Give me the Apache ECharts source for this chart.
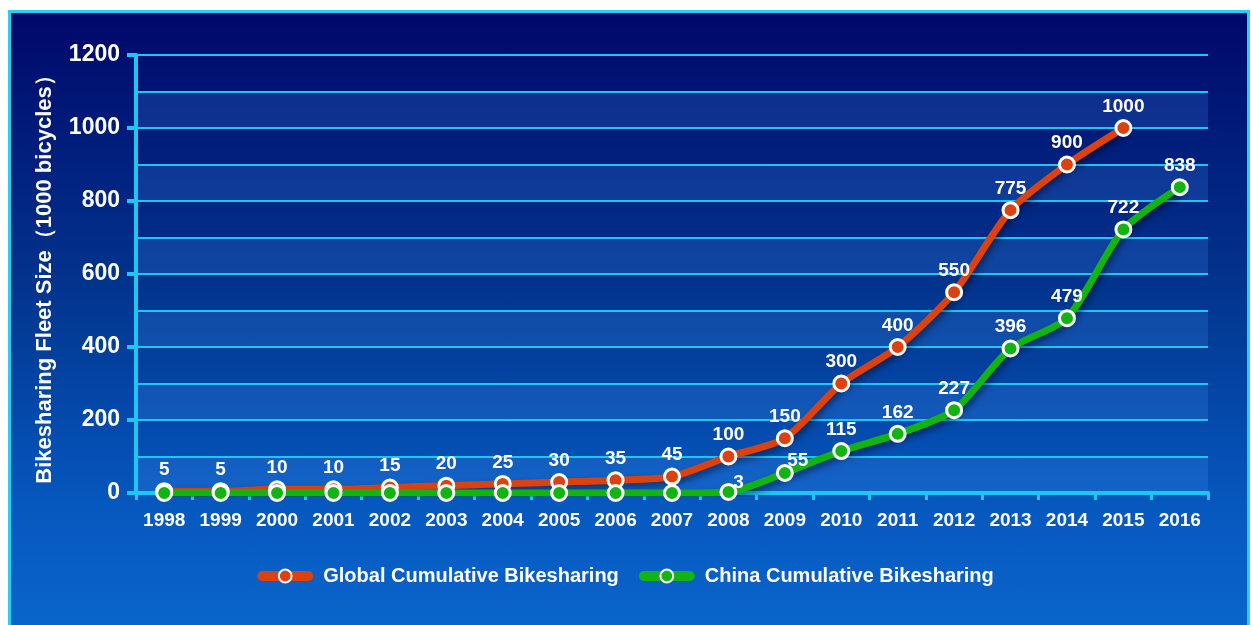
<!DOCTYPE html>
<html><head><meta charset="utf-8">
<script src="https://cdn.jsdelivr.net/npm/echarts@6/dist/echarts.min.js"></script>
<style>
html,body{margin:0;padding:0;background:#fff;width:1251px;height:625px;overflow:hidden;}
#frame{position:absolute;left:8px;top:10px;width:1236px;height:620px;border:3px solid #2ccdf2;
background:linear-gradient(to bottom,#00086a 0%,#02358f 45%,#0658bf 80%,#0a66cc 100%);}
#chart{position:absolute;left:0;top:0;width:1251px;height:625px;}
</style></head>
<body><div id="frame"></div><div id="chart"></div>
<script>
const years = ['1998','1999','2000','2001','2002','2003','2004','2005','2006','2007','2008','2009','2010','2011','2012','2013','2014','2015','2016'];
const globalFleet = [5,5,10,10,15,20,25,30,35,45,100,150,300,400,550,775,900,1000,null];
const chinaFleet = [0,0,0,0,0,0,0,0,0,0,3,55,115,162,227,396,479,722,838];
const seriesNames = ['Global Cumulative Bikesharing','China Cumulative Bikesharing'];
const yAxisTitle = 'Bikesharing Fleet Size（1000 bicycles）';

const font = 'Liberation Sans, Arial, sans-serif';
const cyan = '#1ec6f2';
const chart = echarts.init(document.getElementById('chart'));
// label nudges (style only) for China points near the steep global line
const chinaLabelOffsets = { '2008': [10, 12], '2009': [13, 9] };
function mkSeries(name, data, color, hideZero, offsets) {
  const d = data.map((v, i) => {
    const o = offsets && offsets[years[i]];
    return o ? { value: v, label: { offset: o } } : v;
  });
  return {
    name, type: 'line', data: d, smooth: 0.25,
    symbol: 'circle', symbolSize: 15, z: 3,
    lineStyle: { color, width: 7, shadowColor: 'rgba(0,0,20,0.45)', shadowBlur: 6, shadowOffsetY: 4, shadowOffsetX: 2 },
    itemStyle: { color, borderColor: '#fff', borderWidth: 3 },
    label: { show: true, position: 'top', distance: 3, color: '#fff', fontFamily: font, fontWeight: 'bold', fontSize: 19,
      formatter: p => (hideZero && p.value === 0) ? '' : p.value }
  };
}
chart.setOption({
  backgroundColor: 'transparent',
  animation: false,
  grid: { left: 136, right: 43, top: 55, bottom: 132 },
  legend: {
    top: 561, left: 'center', itemWidth: 46, itemHeight: 16, itemGap: 20,
    lineStyle: { width: 10, cap: 'round' },
    textStyle: { color: '#fff', fontFamily: font, fontWeight: 'bold', fontSize: 20, padding: [0, 0, 0, 10] },
    data: seriesNames
  },
  xAxis: {
    type: 'category', data: years, boundaryGap: true,
    axisLine: { lineStyle: { color: cyan, width: 4 } },
    axisTick: { show: true, length: 7, lineStyle: { color: cyan, width: 3 } },
    axisLabel: { color: '#fff', fontFamily: font, fontWeight: 'bold', fontSize: 19, margin: 18 }
  },
  yAxis: [{
    type: 'value', min: 0, max: 1200, interval: 200,
    name: yAxisTitle, nameLocation: 'middle', nameGap: 80,
    nameTextStyle: { color: '#fff', fontFamily: font, fontWeight: 'bold', fontSize: 22 },
    axisLine: { show: true, lineStyle: { color: cyan, width: 4 } },
    axisTick: { show: true, length: 9, lineStyle: { color: cyan, width: 4 } },
    axisLabel: { color: '#fff', fontFamily: font, fontWeight: 'bold', fontSize: 23, margin: 16, formatter: v => String(v) },
    splitLine: { show: false }
  }, {
    type: 'value', min: 0, max: 1200, interval: 100, position: 'left',
    axisLine: { show: false }, axisTick: { show: false }, axisLabel: { show: false },
    splitLine: { show: true, lineStyle: { color: cyan, width: 2 } },
    splitArea: { show: true, areaStyle: { color: ['rgba(80,160,255,0.18)', 'rgba(0,0,0,0)'] } }
  }],
  series: [
    mkSeries(seriesNames[0], globalFleet, '#dc4210', false, null),
    mkSeries(seriesNames[1], chinaFleet, '#12b414', true, chinaLabelOffsets)
  ]
});
</script></body></html>
